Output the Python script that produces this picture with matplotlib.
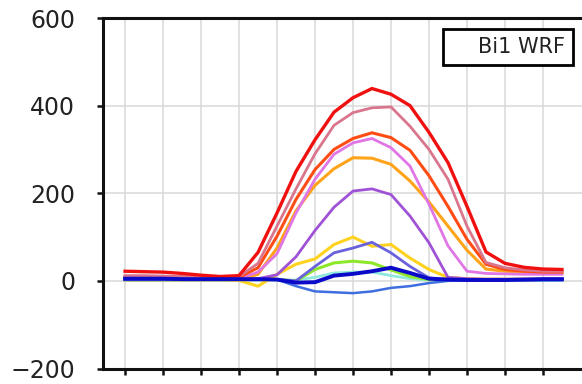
import numpy as np
import matplotlib
matplotlib.use("Agg")
import matplotlib.pyplot as plt
from matplotlib.lines import Line2D

# --- data (hourly 0..23) ---
hours = list(range(24))

red       = [22, 21, 20, 17, 13, 10, 12, 65, 155, 250, 322, 385, 418, 439, 426, 400, 339, 270, 170, 66, 40, 31, 27, 26]
rose      = [12, 12, 11, 10, 9, 8, 10, 40, 125, 210, 290, 355, 384, 395, 397, 353, 300, 232, 125, 42, 30, 25, 22, 22]
orangered = [10, 10, 9, 9, 8, 8, 8, 30, 102, 186, 254, 300, 325, 338, 327, 298, 240, 170, 95, 38, 26, 22, 20, 20]
orchid    = [5, 5, 5, 5, 5, 5, 5, 20, 62, 155, 232, 289, 315, 325, 304, 262, 175, 80, 22, 17, 16, 15, 15, 15]
orange    = [4, 4, 4, 4, 4, 4, 3, 15, 75, 160, 218, 256, 281, 280, 266, 228, 180, 125, 70, 27, 22, 20, 18, 18]
purple    = [4, 4, 4, 4, 4, 4, 4, 5, 14, 55, 115, 168, 205, 210, 197, 148, 87, 8, 5, 4, 4, 4, 4, 4]
gold      = [2, 2, 2, 2, 2, 2, 1, -12, 15, 38, 50, 83, 100, 79, 83, 52, 26, 8, 5, 4, 4, 4, 4, 4]
slateblue = [3, 3, 3, 3, 3, 3, 3, 3, 3, 0, 33, 64, 75, 88, 64, 33, 7, 3, 3, 3, 3, 3, 3, 3]
green     = [3, 3, 3, 3, 3, 3, 3, 3, 3, 0, 26, 41, 45, 41, 25, 10, 3, 3, 3, 3, 3, 3, 3, 3]
cyan      = [2, 2, 2, 2, 2, 2, 2, 2, 2, 2, 8, 18, 20, 20, 12, 5, 2, 2, 2, 2, 2, 2, 2, 2]
royalblue = [2, 2, 2, 2, 2, 2, 2, 2, 3, -12, -24, -26, -28, -24, -16, -12, -5, 0, 1, 1, 1, 1, 1, 1]
darkblue  = [5, 5, 5, 4, 4, 4, 4, 4, 3, -4, -3, 12, 16, 22, 30, 18, 5, 3, 2, 2, 2, 3, 4, 4]

series = [
    (cyan, '#8feadd', 2.0),
    (green, '#8ee82a', 2.2),
    (gold, '#ffd21f', 2.2),
    (slateblue, '#6a62dc', 2.0),
    (purple, '#a052d6', 2.0),
    (orange, '#ffa31a', 2.2),
    (orchid, '#e076e6', 2.0),
    (orangered, '#ff4c14', 2.2),
    (rose, '#d9768e', 2.0),
    (red, '#f01010', 2.4),
    (royalblue, '#3f6ee0', 1.8),
    (darkblue, '#0a0ac8', 2.8),
]

fig = plt.figure(figsize=(5.82, 3.84), dpi=100)
ax = fig.add_axes([103 / 582, 1 - 368.5 / 384, 481 / 582, 350.5 / 384])

for vals, col, lw in series:
    ax.plot(hours, vals, color=col, linewidth=lw, solid_joinstyle='miter')

ax.set_xlim(-1.16, 24.16)
ax.set_ylim(-200, 600)
ax.set_xticks(range(0, 23, 2))
ax.set_xticklabels([])
ax.set_yticks([-200, 0, 200, 400, 600])
ax.grid(True, color='#d8d8d8', linewidth=1.1)
ax.set_axisbelow(True)

for sp in ax.spines.values():
    sp.set_linewidth(2.2)
    sp.set_color('#111111')
ax.tick_params(axis='both', length=4.5, width=1.8, color='#111111')
ax.tick_params(axis='y', labelsize=17, pad=15.5, labelcolor='#222222')

leg = ax.legend(handles=[Line2D([], [], color='none')], labels=['Bi1 WRF'],
                loc='upper right', fontsize=15, fancybox=False, framealpha=1,
                edgecolor='black', handlelength=0.85, handletextpad=0.45,
                borderpad=0.38, borderaxespad=0.55)
leg.get_frame().set_linewidth(2.0)
for t in leg.get_texts():
    t.set_color('#222222')

fig.savefig('out.png', dpi=100)
